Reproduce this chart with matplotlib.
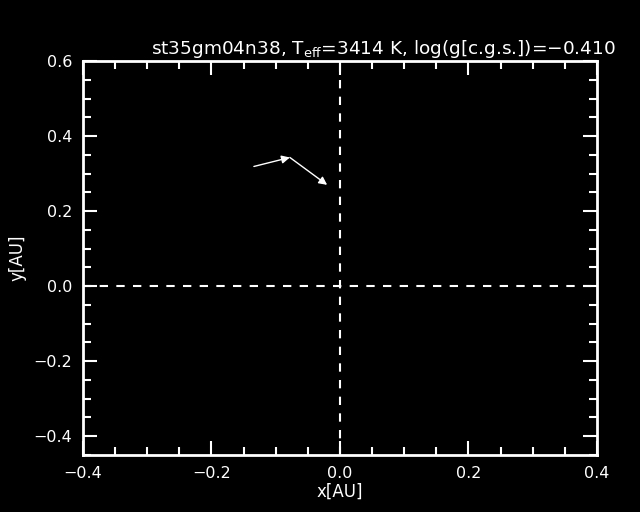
import matplotlib
matplotlib.use('Agg')
import matplotlib.pyplot as plt
from matplotlib.ticker import MultipleLocator

# trajetória do fotocentro
x_pts = [-0.134, -0.078, -0.020]
y_pts = [0.319, 0.343, 0.270]

titulo = r'st35gm04n38, T$_{\rm eff}$=3414 K, log(g[c.g.s.])=$-$0.410'

fig = plt.figure(figsize=(6.4, 5.12), dpi=100, facecolor='black')
ax = fig.add_axes([0.1297, 0.1113, 0.803, 0.7695], facecolor='black')

for i in range(len(x_pts) - 1):
    ax.annotate('', xy=(x_pts[i + 1], y_pts[i + 1]), xytext=(x_pts[i], y_pts[i]),
                arrowprops=dict(arrowstyle='-|>', color='white', lw=1.0,
                                mutation_scale=12, shrinkA=0, shrinkB=0))

ax.axvline(0, color='white', ls=(0, (4, 4)), lw=1.5)
ax.axhline(0, color='white', ls=(0, (4, 4)), lw=1.5)

ax.set_xlim(-0.4, 0.4)
ax.set_ylim(-0.45, 0.6)
ax.xaxis.set_major_locator(MultipleLocator(0.2))
ax.xaxis.set_minor_locator(MultipleLocator(0.05))
ax.yaxis.set_major_locator(MultipleLocator(0.2))
ax.yaxis.set_minor_locator(MultipleLocator(0.05))
ax.xaxis.set_major_formatter(plt.FuncFormatter(lambda v, p: f'{v:.1f}'.replace('-', '\u2212')))
ax.yaxis.set_major_formatter(plt.FuncFormatter(lambda v, p: f'{v:.1f}'.replace('-', '\u2212')))

ax.tick_params(which='both', direction='in', top=True, right=True, colors='white',
               labelsize=11.5, width=1.5)
ax.tick_params(which='major', length=10, pad=8)
ax.tick_params(which='minor', length=6)
for s in ax.spines.values():
    s.set_color('white')
    s.set_linewidth(2)

ax.set_xlabel('x[AU]', color='white', fontsize=12, labelpad=1)
ax.set_ylabel('y[AU]', color='white', fontsize=12, labelpad=5)
ax.set_title(titulo, color='white', fontsize=13.3, pad=5, x=0.585)

fig.savefig('out.png', dpi=100, facecolor='black')
